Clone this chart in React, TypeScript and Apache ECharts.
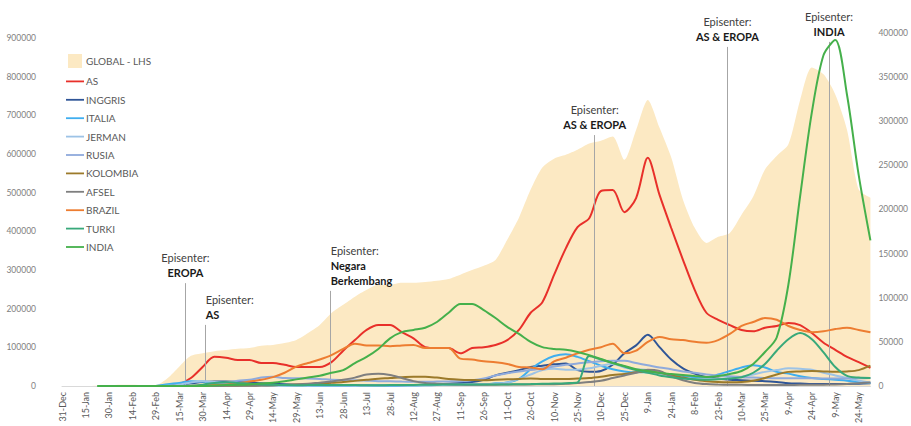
import React, { useEffect, useRef } from 'react';
import * as echarts from 'echarts';

// Sampling grid: one value every 7.5 days, starting 31-Dec-2019 (day 0)
const STEP_DAYS = 7.5;

const xTickLabels = [
  '31-Dec', '15-Jan', '30-Jan', '14-Feb', '29-Feb', '15-Mar', '30-Mar', '14-Apr', '29-Apr', '14-May',
  '29-May', '13-Jun', '28-Jun', '13-Jul', '28-Jul', '12-Aug', '27-Aug', '11-Sep', '26-Sep', '11-Oct',
  '26-Oct', '10-Nov', '25-Nov', '10-Dec', '25-Dec', '9-Jan', '24-Jan', '8-Feb', '23-Feb', '10-Mar',
  '25-Mar', '9-Apr', '24-Apr', '9-May', '24-May',
];

// GLOBAL - LHS (left axis)
const globalCases = [
  0, 0, 0, 500, 2000, 3000, 3500, 2500, 2500, 20000,
  50000, 78000, 85000, 90000, 93000, 96000, 98000, 104000, 106000, 111000,
  119000, 137000, 158000, 189000, 210000, 231000, 249000, 262000, 262000, 267000,
  267000, 269000, 272000, 277000, 288000, 300000, 311000, 326000, 378000, 435000,
  508000, 565000, 588000, 598000, 611000, 627000, 634000, 645000, 585000, 662000,
  740000, 668000, 591000, 482000, 409000, 370000, 386000, 396000, 443000, 490000,
  560000, 595000, 625000, 740000, 824000, 806000, 754000, 663000, 508000, 487000,
];

// Countries (right axis)
const asCases = [
  null, null, null, null, null, null, null, null, 0, 0,
  2000, 9000, 21500, 33000, 32000, 29500, 29500, 26000, 26000, 24000,
  21500, 21500, 21500, 27000, 40000, 52000, 63500, 69000, 69000, 61000,
  54000, 44000, 43000, 43000, 37000, 43000, 44000, 46500, 52000, 63500,
  83000, 95000, 126000, 156000, 180000, 190000, 221000, 222000, 197000, 213000,
  258500, 216500, 179000, 143000, 109000, 83000, 75000, 69000, 63500, 62000,
  66000, 68000, 71500, 69000, 60000, 49000, 41000, 33000, 27000, 20500,
];

const inggrisCases = [
  null, null, null, null, null, null, null, null, 0, 500,
  1500, 3000, 4500, 5000, 5000, 4500, 4000, 3200, 2500, 2000,
  1500, 1200, 1000, 800, 700, 700, 700, 700, 800, 900,
  1100, 1300, 1800, 2500, 3500, 4500, 7000, 12000, 15000, 18000,
  21500, 23000, 24500, 25500, 18000, 16000, 17000, 24000, 37000, 46000,
  58000, 44000, 30000, 20000, 14000, 10000, 8500, 7000, 6500, 5800,
  5500, 4500, 3000, 2700, 2300, 2200, 2200, 2300, 2600, 3000,
];

const italiaCases = [
  null, null, null, null, null, null, null, null, 0, 2000,
  3500, 5500, 5000, 4200, 3500, 2500, 2000, 1200, 900, 600,
  500, 350, 300, 250, 200, 200, 250, 300, 350, 450,
  500, 700, 1200, 1500, 1600, 1700, 2000, 3000, 4000, 8000,
  19000, 28000, 34000, 36000, 33000, 28000, 23000, 19000, 16500, 15500,
  15500, 14500, 12500, 11000, 10000, 9500, 13000, 17000, 21000, 23500,
  21000, 16000, 14000, 11000, 9000, 8000, 7000, 6000, 4500, 3500,
];

const jermanCases = [
  null, null, null, null, null, null, null, null, 0, 200,
  1500, 4000, 5500, 4500, 3000, 1800, 1200, 800, 600, 500,
  450, 400, 450, 500, 450, 400, 400, 550, 700, 900,
  1100, 1300, 1400, 1400, 1500, 1800, 2000, 2500, 4000, 8000,
  13000, 18000, 19500, 18500, 18500, 20000, 23000, 25000, 21000, 19000,
  18000, 14000, 11000, 9000, 8000, 7800, 8000, 9000, 10500, 13000,
  16000, 18000, 20000, 19500, 18500, 15000, 12000, 9000, 6000, 4000,
];

const rusiaCases = [
  null, null, null, null, null, null, null, null, 0, 0,
  20, 200, 800, 2000, 4000, 6000, 7000, 9500, 10500, 9000,
  8800, 8500, 8000, 7000, 6700, 6500, 6000, 5500, 5300, 5000,
  4900, 4800, 5000, 5200, 5500, 6500, 8500, 12000, 14500, 16500,
  18000, 20000, 22000, 24000, 25500, 27000, 28000, 28500, 28500, 26000,
  23500, 21000, 19000, 16500, 15000, 13000, 12000, 11000, 10000, 9500,
  9000, 8700, 8800, 8700, 8700, 8500, 8400, 8500, 8800, 9000,
];

const kolombiaCases = [
  null, null, null, null, null, null, null, null, null, null,
  0, 20, 80, 150, 250, 350, 500, 700, 900, 1200,
  1600, 2000, 2800, 3600, 4500, 5800, 7000, 8200, 9000, 10000,
  10500, 10500, 9500, 8000, 7200, 6800, 6500, 7000, 7500, 8000,
  8500, 8000, 7800, 8000, 8500, 9000, 10500, 12500, 13500, 15500,
  16500, 15000, 12000, 9500, 7000, 5500, 4500, 4200, 4500, 6000,
  9000, 13000, 16000, 16500, 17000, 16500, 16000, 16500, 18000, 23000,
];

const afselCases = [
  null, null, null, null, null, null, null, null, null, null,
  0, 50, 100, 100, 150, 250, 350, 500, 800, 1200,
  1700, 2500, 3800, 5000, 7000, 9500, 13000, 14000, 12500, 9000,
  5500, 3500, 2600, 2000, 1600, 1400, 1300, 1500, 1600, 1700,
  1800, 1900, 2000, 2500, 3500, 4500, 6000, 9000, 12000, 15000,
  18500, 17000, 11000, 6500, 3500, 2200, 1700, 1400, 1300, 1200,
  1200, 1100, 1200, 1300, 1300, 1500, 1800, 2300, 3200, 4000,
];

const brazilCases = [
  null, null, null, null, null, null, null, null, null, null,
  0, 100, 500, 1200, 1800, 3000, 5000, 7000, 10000, 15000,
  22000, 26000, 30000, 35000, 42000, 48000, 46000, 46000, 45000, 46000,
  46500, 43000, 43000, 43000, 31000, 30000, 28000, 27000, 25000, 21500,
  21000, 19000, 28000, 32000, 37000, 41000, 44000, 48000, 37000, 40000,
  50000, 55500, 53000, 52000, 50000, 49000, 52000, 59000, 68000, 72500,
  77000, 75000, 68000, 63500, 61000, 62000, 64500, 66000, 63500, 61000,
];

const turkiCases = [
  null, null, null, null, null, null, null, null, null, null,
  0, 300, 1500, 3500, 4200, 3500, 2500, 1800, 1400, 1000,
  900, 1000, 1300, 1200, 1100, 1000, 950, 950, 1000, 1100,
  1200, 1400, 1500, 1600, 1700, 1700, 1600, 1600, 1700, 2000,
  2200, 2500, 2800, 3200, 4000, 34000, 30000, 26000, 22000, 18000,
  15000, 12000, 10000, 8500, 7500, 7000, 7500, 8500, 10000, 15000,
  25000, 40000, 53000, 60000, 53000, 38000, 21500, 11500, 9500, 9000,
];

const indiaCases = [
  null, null, null, 0, 0, 0, 0, 0, 0, 0,
  0, 0, 100, 600, 1000, 1400, 1800, 2800, 3800, 5500,
  7500, 9500, 11500, 15000, 18000, 26000, 33000, 42000, 54000, 61000,
  63500, 66000, 72500, 83000, 93000, 93000, 86000, 77000, 67000, 59000,
  50000, 44000, 42000, 41000, 38500, 35000, 30600, 26000, 22700, 19000,
  17000, 14700, 13600, 12500, 11300, 10200, 11300, 13600, 17000, 25000,
  38500, 55000, 115000, 215000, 310000, 375000, 392000, 330000, 239000, 165000,
];

const countrySeries = [
  { name: 'AS', color: '#E8302A', data: asCases },
  { name: 'INGGRIS', color: '#2F5597', data: inggrisCases },
  { name: 'ITALIA', color: '#3FAEEF', data: italiaCases },
  { name: 'JERMAN', color: '#9DC3E6', data: jermanCases },
  { name: 'RUSIA', color: '#8FAADC', data: rusiaCases },
  { name: 'KOLOMBIA', color: '#9C7A2A', data: kolombiaCases },
  { name: 'AFSEL', color: '#7F7F7F', data: afselCases },
  { name: 'BRAZIL', color: '#ED7D31', data: brazilCases },
  { name: 'TURKI', color: '#38A97A', data: turkiCases },
  { name: 'INDIA', color: '#45B04B', data: indiaCases },
];

// Annotations: day offset of the marker line, top of the line (left-axis value), bold caption
const annotations = [
  { day: 79, top: 266000, caption: ['EROPA'], align: 'center' },
  { day: 92, top: 158000, caption: ['AS'], align: 'left' },
  { day: 172, top: 246000, caption: ['Negara', 'Berkembang'], align: 'left' },
  { day: 341, top: 649000, caption: ['AS & EROPA'], align: 'center' },
  { day: 426, top: 877000, caption: ['AS & EROPA'], align: 'center' },
  { day: 491, top: 890000, caption: ['INDIA'], align: 'center' },
];

const FONT = 'Lato, "Noto Sans", sans-serif';

const toPairs = (arr: (number | null)[]) => arr.map((v, i) => [i * STEP_DAYS, v]);

export default function App() {
  const ref = useRef<HTMLDivElement>(null);

  useEffect(() => {
    if (!ref.current) return;
    const chart = echarts.init(ref.current, undefined, { renderer: 'svg' });

    const markLineData = annotations.map((a) => [
      {
        coord: [a.day, a.top],
        label: {
          show: true,
          position: 'start',
          distance: 3,
          align: a.align,
          formatter: 'Episenter:\n' + a.caption.map((c) => `{b|${c}}`).join('\n'),
          color: '#404040',
          fontSize: 11,
          lineHeight: 15,
          fontFamily: FONT,
          rich: {
            b: { fontWeight: 'bold', color: '#1a1a1a', fontSize: 11, lineHeight: 15, fontFamily: FONT },
          },
        },
      },
      { coord: [a.day, 0] },
    ]);

    const option: any = {
      animation: false,
      backgroundColor: '#ffffff',
      textStyle: { fontFamily: FONT },
      grid: { left: 62, right: 36, top: 33, bottom: 40, containLabel: false },
      legend: {
        orient: 'vertical',
        left: 61,
        top: 49,
        itemWidth: 18,
        itemHeight: 14,
        itemGap: 8.4,
        selectedMode: false,
        textStyle: { color: '#595959', fontSize: 10, fontFamily: FONT, padding: [0, 0, 0, -3] },
        data: [
          { name: 'GLOBAL - LHS', icon: 'path://M0,0H10V10H0Z' },
          ...countrySeries.map((c) => ({ name: c.name, icon: 'path://M0,0H30V3H0Z' })),
        ],
      },
      xAxis: {
        type: 'value',
        min: 0,
        max: (globalCases.length - 1) * STEP_DAYS,
        interval: 15,
        axisLine: { show: true, lineStyle: { color: '#D9D9D9', width: 1 } },
        axisTick: { show: false },
        splitLine: { show: false },
        axisLabel: {
          rotate: 90,
          fontSize: 9,
          color: '#595959',
          margin: 6,
          showMaxLabel: false,
          fontFamily: FONT,
          formatter: (v: number) => (v % 15 === 0 && xTickLabels[v / 15] ? xTickLabels[v / 15] : ''),
        },
      },
      yAxis: [
        {
          type: 'value',
          position: 'left',
          min: 0,
          max: 913000,
          interval: 100000,
          axisLine: { show: false },
          axisTick: { show: false },
          splitLine: { show: false },
          axisLabel: {
            fontSize: 8.5,
            color: '#7F7F7F',
            margin: 26,
            fontFamily: FONT,
            formatter: (v: number) => (v % 100000 === 0 ? String(v) : ''),
          },
        },
        {
          type: 'value',
          position: 'right',
          min: 0,
          max: 400000,
          interval: 50000,
          axisLine: { show: false },
          axisTick: { show: false },
          splitLine: { show: false },
          axisLabel: {
            fontSize: 8.5,
            color: '#7F7F7F',
            margin: 8,
            fontFamily: FONT,
            formatter: (v: number) => String(v),
          },
        },
      ],
      series: [
        {
          name: 'GLOBAL - LHS',
          type: 'line',
          yAxisIndex: 0,
          data: toPairs(globalCases),
          symbol: 'none',
          smooth: 0.25,
          color: '#FCE9C3',
          lineStyle: { width: 0 },
          areaStyle: { color: '#FCE9C3', opacity: 1 },
          z: 1,
          markLine: {
            silent: true,
            symbol: ['none', 'none'],
            lineStyle: { color: '#A6A6A6', width: 1, type: 'solid' },
            data: markLineData,
          },
        },
        ...countrySeries.map((c, idx) => ({
          name: c.name,
          type: 'line',
          yAxisIndex: 1,
          data: toPairs(c.data),
          symbol: 'none',
          showSymbol: false,
          smooth: 0.3,
          color: c.color,
          lineStyle: { width: 2, color: c.color },
          z: 3 + idx,
        })),
      ],
    };

    chart.setOption(option);
    return () => chart.dispose();
  }, []);

  return (
    <div
      ref={ref}
      style={{ position: 'fixed', left: 0, top: 0, width: 911, height: 426, background: '#fff' }}
    />
  );
}
